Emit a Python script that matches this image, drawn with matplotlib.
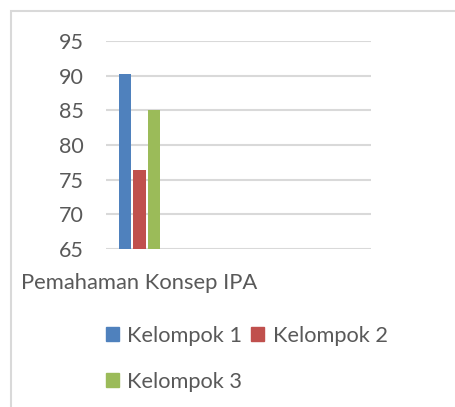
import matplotlib.pyplot as plt
from matplotlib.patches import Rectangle, Patch

# data
categories = ["Pemahaman Konsep IPA"]
series = ["Kelompok 1", "Kelompok 2", "Kelompok 3"]
values = [90.3, 76.4, 85.1]
colors = ["#4f81bd", "#c0504d", "#9bbb59"]
yticks = [65, 70, 75, 80, 85, 90, 95]

plt.rcParams['font.family'] = ['Lato', 'DejaVu Sans']
text_color = "#595959"

fig = plt.figure(figsize=(4.55, 4.07), dpi=100)

# light frame like the chart area border
fig.patches.append(Rectangle((11 / 455, -0.1), 1.2, 1 - 11 / 407 + 0.1,
                             transform=fig.transFigure, fill=False,
                             edgecolor="#d9d9d9", linewidth=1.5))

ax = fig.add_axes([106 / 455, 1 - 249 / 407, 265 / 455, 208 / 407])

offsets = [-0.216, 0.0, 0.216]
for i, name in enumerate(series):
    ax.bar(0 + offsets[i], values[i] - 65, bottom=65, width=0.18,
           color=colors[i], label=name, zorder=3)

ax.set_ylim(65, 95)
ax.set_xlim(-0.5, 3.455)
ax.set_yticks(yticks)
ax.set_xticks([0])
ax.set_xticklabels(categories)
ax.grid(axis="y", color="#d9d9d9", linewidth=1.5, zorder=0)
for s in ax.spines.values():
    s.set_visible(False)
ax.tick_params(axis="y", length=0, pad=16, labelsize=15.5, labelcolor=text_color)
ax.tick_params(axis="x", length=0, pad=17, labelsize=15.8, labelcolor=text_color)

# legend fills column-wise, so order the entries to read row-wise
order = [0, 2, 1]
handles = [Patch(color=colors[i]) for i in order]
labels = [series[i] for i in order]
fig.legend(handles, labels, ncol=2, loc="upper left",
           bbox_to_anchor=(86 / 455, 1 - 306 / 407), frameon=False,
           fontsize=15.7, labelcolor=text_color, handlelength=0.6,
           handleheight=0.6, handletextpad=0.4, columnspacing=0.4,
           labelspacing=1.2)

fig.savefig("out.png", dpi=100)
